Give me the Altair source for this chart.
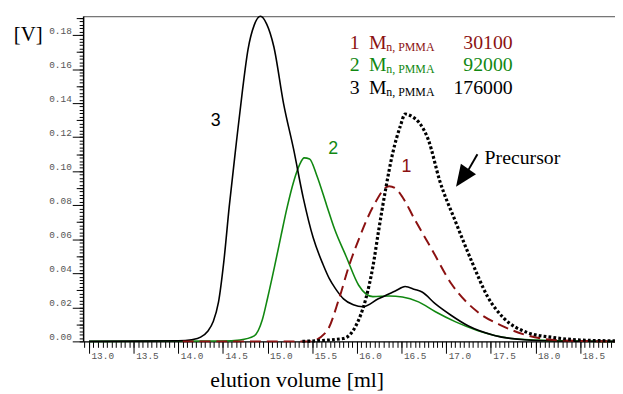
import altair as alt
import pandas as pd

# ---------------- data ----------------
# curve 3 (black, Mn 176000)
x3 = [13.0, 14.0, 14.15, 14.25, 14.33, 14.39, 14.45, 14.51, 14.57, 14.65, 14.72, 14.78,
      14.85, 14.92, 14.99, 15.07, 15.18, 15.29, 15.40, 15.51, 15.62, 15.69, 15.76, 15.85,
      15.96, 16.07, 16.24, 16.43, 16.54, 16.65, 16.73, 16.88, 17.05, 17.25, 17.54, 17.91,
      18.32, 18.89]
y3 = [0.0, 0.0003, 0.0010, 0.0025, 0.0060, 0.0115, 0.0230, 0.0470, 0.0790, 0.1167, 0.1481,
      0.1713, 0.1858, 0.1910, 0.1864, 0.1731, 0.1394, 0.1132, 0.0842, 0.0610, 0.0453,
      0.0370, 0.0310, 0.0250, 0.0215, 0.0203, 0.0250, 0.0296, 0.0322, 0.0305, 0.0290,
      0.0220, 0.0155, 0.0090, 0.0035, 0.0008, 0.0001, 0.0]

# curve 2 (green, Mn 92000)
x2 = [13.0, 14.5, 14.69, 14.85, 14.94, 15.00, 15.08, 15.15, 15.22, 15.29, 15.36, 15.41,
      15.47, 15.55, 15.66, 15.75, 15.88, 16.02, 16.18, 16.36, 16.51, 16.69, 16.88, 17.10,
      17.35, 17.73, 18.09, 18.89]
y2 = [0.0, 0.0002, 0.0008, 0.0032, 0.0125, 0.0255, 0.0445, 0.0620, 0.0790, 0.0935, 0.1040,
      0.1078, 0.1072, 0.0976, 0.0802, 0.0660, 0.0499, 0.0330, 0.0263, 0.0267, 0.0261,
      0.0232, 0.0174, 0.0116, 0.0064, 0.0017, 0.0006, 0.0]

# curve 1 (dark red dashed, Mn 30100)
x1 = [14.05, 15.47, 15.66, 15.80, 15.91, 16.02, 16.18, 16.36, 16.43, 16.51, 16.65, 16.84,
      17.06, 17.35, 17.62, 17.91, 18.28, 18.89]
y1 = [0.0, 0.0, 0.0058, 0.0250, 0.0441, 0.0598, 0.0790, 0.0912, 0.0900, 0.0848, 0.0714,
      0.0540, 0.0337, 0.0174, 0.0093, 0.0035, 0.0006, 0.0]

# precursor (black dotted)
xp = [15.39, 15.85, 15.99, 16.10, 16.18, 16.24, 16.32, 16.40, 16.49, 16.54, 16.62, 16.69,
      16.80, 16.93, 17.10, 17.29, 17.46, 17.65, 17.91, 18.20, 18.50, 18.89]
yp = [0.0, 0.0017, 0.0093, 0.0250, 0.0441, 0.0639, 0.0888, 0.1103, 0.1270, 0.1336, 0.1320,
      0.1290, 0.1185, 0.0940, 0.0710, 0.0465, 0.0267, 0.0134, 0.0052, 0.0023, 0.0008, 0.0003]

# tick labels
x_major = [13.0, 13.5, 14.0, 14.5, 15.0, 15.5, 16.0, 16.5, 17.0, 17.5, 18.0, 18.5]
y_major = [0.00, 0.02, 0.04, 0.06, 0.08, 0.10, 0.12, 0.14, 0.16, 0.18]

# legend / annotation text
legend_num = ["1", "2", "3"]
legend_val = ["30100", "92000", "176000"]
legend_color = ["#8B1111", "#118811", "#000000"]
legend_y = [0.1719, 0.1588, 0.1452]
curve_lbl = ["3", "2", "1"]
curve_lbl_x = [14.42, 15.735, 16.555]
curve_lbl_y = [0.1295, 0.1132, 0.1022]
curve_lbl_color = ["#000000", "#118811", "#8B1111"]

RED, GREEN = "#8B1111", "#118811"
XMIN, XMAX = 12.934, 18.891
YMIN, YMAX = 0.0, 0.1911

xs = alt.Scale(domain=[XMIN, XMAX], nice=False, zero=False)
ys = alt.Scale(domain=[YMIN, YMAX], nice=False, zero=False)

x_minor = [round(12.95 + 0.05 * i, 2) for i in range(119)]
y_minor = [round(0.002 * i, 3) for i in range(96)]
y_mid = [round(0.01 + 0.02 * i, 2) for i in range(10)]

def curve_df(xv, yv):
    return pd.DataFrame({"x": xv, "y": yv})

all_df = pd.concat([curve_df(x3, y3), curve_df(x2, y2), curve_df(x1, y1), curve_df(xp, yp)])

MONO = "Liberation Mono"
SERIF = "Liberation Serif"
SANS = "Liberation Sans"

# ---- axis layers ----
main_axes = alt.Chart(all_df).mark_point(opacity=0).encode(
    x=alt.X("x:Q", scale=xs, axis=alt.Axis(
        orient="bottom", values=x_major, format=".1f", labelFont=MONO, labelFontSize=9.5,
        labelColor="#555555", labelAlign="left", labelBaseline="middle", labelPadding=2,
        labelOffset=2, labelFlush=False, labelOverlap=False, labelBound=False,
        tickSize=12, tickColor="black", tickWidth=1, domainColor="black", domainWidth=1.5,
        grid=False, title="elution volume [ml]", titleFont=SERIF, titleFontSize=22,
        titleFontWeight="normal", titleColor="black", titleX=216, titleY=46,
        titleAlign="center", titleBaseline="alphabetic")),
    y=alt.Y("y:Q", scale=ys, axis=alt.Axis(
        orient="left", values=y_major, format=".2f", labelFont=MONO, labelFontSize=9.5,
        labelColor="#555555", labelBaseline="bottom", labelPadding=1, labelFlush=False,
        labelOverlap=False, labelBound=False,
        tickSize=11, tickColor="black", tickWidth=1, domainColor="black", domainWidth=1.5,
        grid=False, title="[V]", titleAngle=0, titleFont=SERIF, titleFontSize=21,
        titleFontWeight="normal", titleColor="black", titleX=-56, titleY=25,
        titleAlign="center", titleBaseline="alphabetic")),
)

minor_axes = alt.Chart(all_df).mark_point(opacity=0).encode(
    x=alt.X("x:Q", scale=xs, axis=alt.Axis(
        orient="bottom", values=x_minor, labels=False, domain=False, tickSize=6,
        tickColor="black", tickWidth=1, grid=False, title=None)),
    y=alt.Y("y:Q", scale=ys, axis=alt.Axis(
        orient="left", values=y_minor, labels=False, domain=False, tickSize=4,
        tickColor="black", tickWidth=1, grid=False, title=None)),
)

mid_axes = alt.Chart(all_df).mark_point(opacity=0).encode(
    x=alt.X("x:Q", scale=xs, axis=alt.Axis(
        orient="top", labels=False, ticks=False, domain=True, domainColor="#777777",
        domainWidth=1.5, grid=False, title=None)),
    y=alt.Y("y:Q", scale=ys, axis=alt.Axis(
        orient="left", values=y_mid, labels=False, domain=False, tickSize=7,
        tickColor="black", tickWidth=1, grid=False, title=None)),
)

def enc():
    return dict(x=alt.X("x:Q", scale=xs, axis=None), y=alt.Y("y:Q", scale=ys, axis=None))

line2 = alt.Chart(curve_df(x2, y2)).mark_line(color=GREEN, strokeWidth=1.6,
                                              interpolate="monotone").encode(**enc())
line3 = alt.Chart(curve_df(x3, y3)).mark_line(color="black", strokeWidth=1.6,
                                              interpolate="monotone").encode(**enc())
line1 = alt.Chart(curve_df(x1, y1)).mark_line(color=RED, strokeWidth=2, strokeDash=[11, 6],
                                              interpolate="monotone").encode(**enc())
linep = alt.Chart(curve_df(xp, yp)).mark_line(color="black", strokeWidth=3.2, strokeDash=[2.8, 2.2],
                                              strokeCap="butt",
                                              interpolate="monotone").encode(**enc())

# ---- annotations ----
leg = pd.DataFrame({"num": legend_num, "val": legend_val, "color": legend_color, "y": legend_y})
leg["x_num"] = 15.92
leg["x_m"] = 16.135
leg["x_sub"] = 16.33
leg["x_val"] = 17.745
leg["y_sub"] = leg["y"] - 0.0010
leg["m"] = "M"
leg["sub"] = "n, PMMA"

col = alt.Color("color:N", scale=None)

def leg_text(xf, yf, tf, size, align):
    return alt.Chart(leg).mark_text(font=SERIF, fontSize=size, align=align,
                                    baseline="alphabetic").encode(
        x=alt.X(xf + ":Q", scale=xs, axis=None),
        y=alt.Y(yf + ":Q", scale=ys, axis=None),
        text=tf + ":N", color=col)

leg_num = leg_text("x_num", "y", "num", 20, "left")
leg_m = leg_text("x_m", "y", "m", 20, "left")
leg_sub = leg_text("x_sub", "y_sub", "sub", 12, "left")
leg_val = leg_text("x_val", "y", "val", 20, "right")

lbl = pd.DataFrame({"t": curve_lbl, "x": curve_lbl_x, "y": curve_lbl_y, "color": curve_lbl_color})
lbl_text = alt.Chart(lbl).mark_text(font=SANS, fontSize=18, align="center",
                                    baseline="middle").encode(
    x=alt.X("x:Q", scale=xs, axis=None), y=alt.Y("y:Q", scale=ys, axis=None),
    text="t:N", color=col)

prec = pd.DataFrame({"t": ["Precursor"], "x": [17.43], "y": [0.1045]})
prec_text = alt.Chart(prec).mark_text(font=SERIF, fontSize=20, align="left",
                                      baseline="alphabetic", color="black").encode(
    x=alt.X("x:Q", scale=xs, axis=None), y=alt.Y("y:Q", scale=ys, axis=None), text="t:N")

arrow_line_df = pd.DataFrame({"x": [17.35], "y": [0.1100], "x2": [17.23], "y2": [0.0990]})
arrow_line = alt.Chart(arrow_line_df).mark_rule(color="black", strokeWidth=2).encode(
    x=alt.X("x:Q", scale=xs, axis=None), y=alt.Y("y:Q", scale=ys, axis=None),
    x2="x2:Q", y2="y2:Q")

arrow_head_df = pd.DataFrame({"x": [17.18], "y": [0.0961]})
arrow_head = alt.Chart(arrow_head_df).mark_point(
    shape="M0,-1L-0.85,1L0.85,1Z", filled=True, color="black", opacity=1,
    size=480, angle=215, strokeWidth=0).encode(
    x=alt.X("x:Q", scale=xs, axis=None), y=alt.Y("y:Q", scale=ys, axis=None))

chart = alt.layer(
    main_axes, minor_axes, mid_axes,
    line2, line3, line1, linep,
    leg_num, leg_m, leg_sub, leg_val, lbl_text, prec_text, arrow_line, arrow_head,
).resolve_axis(x="independent", y="independent").properties(
    width=538, height=329, autosize="none",
    padding={"left": 76, "top": 6, "right": 0, "bottom": 50},
).configure_view(stroke="transparent").configure(background="white")

chart.save("out.html", embed_options={"renderer": "svg", "actions": False})
